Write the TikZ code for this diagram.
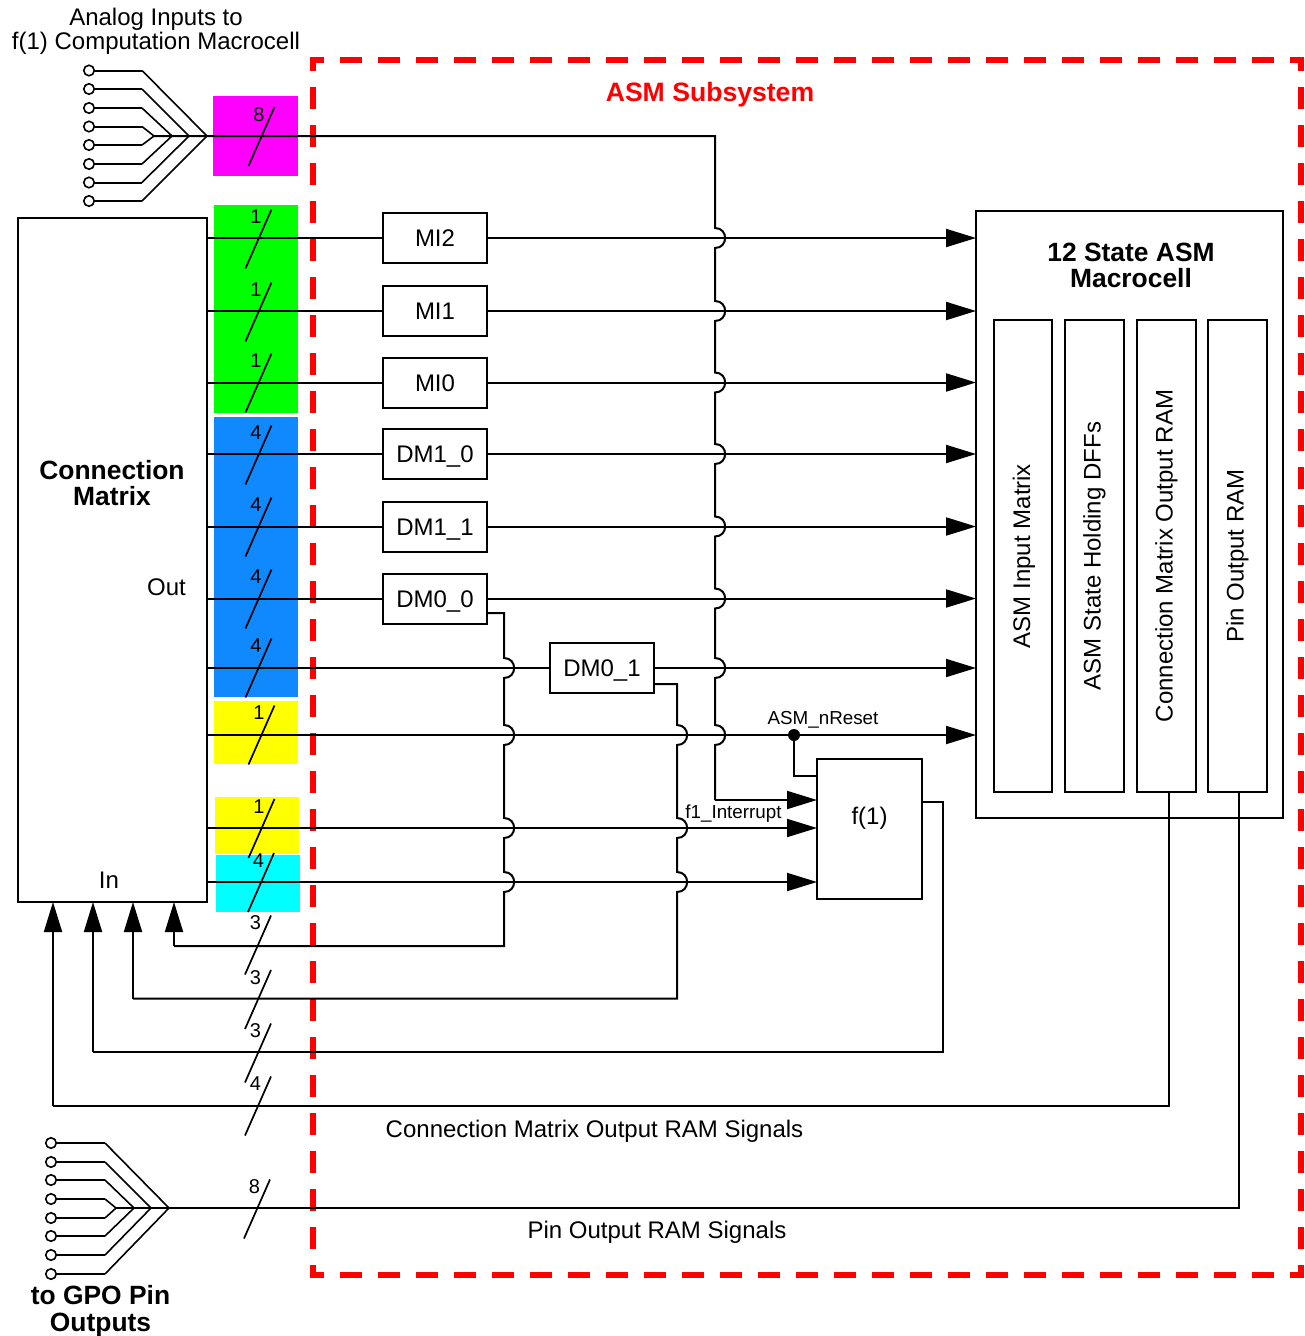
\documentclass[tikz,border=0pt]{standalone}
\usepackage{fontspec}
\setmainfont{Liberation Sans}
\usetikzlibrary{arrows.meta}
\definecolor{cmblue}{HTML}{1089FF}
\definecolor{pmag}{HTML}{FF00FF}
\definecolor{pgreen}{HTML}{00FF00}
\definecolor{pyellow}{HTML}{FFFF00}
\definecolor{pcyan}{HTML}{00FFFF}
\definecolor{pred}{HTML}{FF0000}
\newcommand{\hopat}[2]{-- (#1,#2-10) .. controls (#1+13.5,#2-10) and (#1+13.5,#2+10) .. (#1,#2+10)}
\tikzset{
  wire/.style={line width=2pt},
  thin wire/.style={line width=1.6pt},
  arrowed/.style={wire,-{Triangle[length=30pt,width=18pt]}},
  blockbox/.style={draw=black,line width=2pt,fill=white,inner sep=0pt,outer sep=0pt},
  lbl/.style={font=\fontsize{24}{24}\selectfont,align=center,inner sep=0pt},
  boxlbl/.style={lbl,text height=17pt,text depth=0pt},
  blbl/.style={font=\fontsize{26.4}{26.4}\selectfont\bfseries,align=center,inner sep=0pt},
  small/.style={font=\fontsize{18.8}{20}\selectfont,inner sep=0pt},
  marklbl/.style={font=\fontsize{20}{20}\selectfont,inner sep=0pt},
  pin/.style={circle,draw=black,line width=1.6pt,fill=white,minimum size=10.5pt,inner sep=0pt},
  slashmark/.style={line width=1.7pt}
}
\newcommand{\busmark}[3]{% cx, cy, label
  \draw[slashmark] (#1+13,#2-29.5) -- (#1-13,#2+29.5);
  \node[marklbl] at (#1-2.5,#2-22) {#3};
}
\begin{document}
\begin{tikzpicture}[x=1pt,y=-1pt]
\useasboundingbox (0,0) rectangle (1304,1336);
% coloured bands
\fill[pmag] (213,96) rectangle (298,176);
\fill[pgreen] (214,205) rectangle (298,413);
\fill[cmblue] (214,417) rectangle (298,697);
\fill[pyellow] (214,701) rectangle (298,764);
\fill[pyellow] (215,797) rectangle (299,854);
\fill[pcyan] (216,855) rectangle (300,912);
% subsystem frame: each side restarts its dash pattern at the corner
\draw[pred,line width=6pt,dash pattern=on 22pt off 16pt,dash phase=8pt]
  (310,60) -- (1304,60)
  (310,1275) -- (1304,1275)
  (313,57) -- (313,1278)
  (1301,57) -- (1301,1278);
\node[font=\fontsize{26.6}{28}\selectfont\bfseries,text=pred,inner sep=0pt] (title) at (710,94.5) {ASM Subsystem};
% blocks
\node[blockbox,minimum width=189pt,minimum height=684pt] (CM) at (112.5,560) {};
\node[blbl] (cmt) at (112,483) {Connection\\Matrix};
\node[lbl,anchor=east] (out) at (186,587) {Out};
\node[lbl] (in) at (109,880) {In};
\node[blockbox,boxlbl,minimum width=104pt,minimum height=50pt] (MIb) at (435,238) {MI2};
\node[blockbox,boxlbl,minimum width=104pt,minimum height=50pt] (MIa) at (435,311) {MI1};
\node[blockbox,boxlbl,minimum width=104pt,minimum height=50pt] (MIz) at (435,382.5) {MI0};
\node[blockbox,boxlbl,minimum width=104pt,minimum height=50pt] (DMa) at (435,454) {DM1\_0};
\node[blockbox,boxlbl,minimum width=104pt,minimum height=50pt] (DMb) at (435,526.5) {DM1\_1};
\node[blockbox,boxlbl,minimum width=104pt,minimum height=50pt] (DMc) at (435,598.5) {DM0\_0};
\node[blockbox,boxlbl,minimum width=104pt,minimum height=50pt] (DMd) at (602,668) {DM0\_1};
\node[blockbox,minimum width=307pt,minimum height=607pt] (ASM) at (1129.5,514.5) {};
\node[blbl] (asmt) at (1131,265.5) {12 State ASM\\Macrocell};
\node[blockbox,lbl,minimum width=58pt,minimum height=472pt] (RA) at (1023,556) {\hspace{2pt}\rotatebox{90}{ASM Input Matrix}};
\node[blockbox,lbl,minimum width=59pt,minimum height=472pt] (RB) at (1094.5,556) {\rotatebox{90}{ASM State Holding DFFs}};
\node[blockbox,lbl,minimum width=59pt,minimum height=472pt] (RC) at (1166.5,556) {\rotatebox{90}{Connection Matrix Output RAM}};
\node[blockbox,lbl,minimum width=59pt,minimum height=472pt] (RD) at (1237.5,556) {\rotatebox{90}{Pin Output RAM}};
\node[blockbox,lbl,minimum width=105pt,minimum height=140pt] (F) at (869.5,829) {};
\node[lbl] (ft) at (869.5,818.5) {f(1)};
% straight signals
\foreach \b in {MIb,MIa,MIz,DMa,DMb,DMc} {
  \draw[wire] (CM.east |- \b.west) -- (\b.west);
  \draw[arrowed] (\b.east) -- (ASM.west |- \b.east);
}
\draw[wire] (CM.east |- DMd.west) -- (DMd.west);
\draw[arrowed] (DMd.east) -- (ASM.west |- DMd.east);
\coordinate (rst) at (794,735);
\draw[arrowed] (CM.east |- rst) -- (ASM.west |- rst);
\fill (rst) circle (6pt);
\node[small,anchor=south] (rstl) at (823,728) {ASM\_nReset};
\draw[wire] (rst) -- (794,776) -- (F.west |- 794,776);
\coordinate (fa) at (817,828);
\coordinate (fb) at (817,882);
\draw[arrowed] (CM.east |- fa) -- (fa);
\draw[arrowed] (CM.east |- fb) -- (fb);
\node[small] (fint) at (733.5,814) {f1\_Interrupt};
% analog fan-in
\foreach \y/\jx in {70.5/207,89/189,108/172,126.5/154,145/154,164/172,182.5/189,201/207} {
  \draw[wire] (89,\y) -- (142,\y);
  \draw[thin wire] (142,\y) -- (\jx,136);
  \node[pin] at (89,\y) {};
}
\node[lbl] (anl) at (156,31) {Analog Inputs to\\f(1) Computation Macrocell};
% long bus with hops
\draw[wire] (154,136) -- (715,136) \hopat{715}{238} \hopat{715}{311} \hopat{715}{382.5} \hopat{715}{454} \hopat{715}{526.5} \hopat{715}{598.5} \hopat{715}{668} \hopat{715}{735} -- (715,800);
\draw[arrowed] (715,800) -- (F.west |- 715,800);
% feedback from DM0_0
\draw[wire] (DMc.east |- 504,613) -- (504,613) \hopat{504}{668} \hopat{504}{735} \hopat{504}{828} \hopat{504}{882} -- (504,946) -- (174,946);
\draw[arrowed] (174,946) -- (174,946 |- CM.south);
% feedback from DM0_1
\draw[wire] (DMd.east |- 677,684) -- (677,684) \hopat{677}{735} \hopat{677}{828} \hopat{677}{882} -- (677,998.5) -- (133,998.5);
\draw[arrowed] (133,998.5) -- (133,998.5 |- CM.south);
% f(1) output
\draw[wire] (F.east |- 943,802) -- (943,802) -- (943,1052) -- (93,1052);
\draw[arrowed] (93,1052) -- (93,1052 |- CM.south);
% RAM signals
\draw[wire] (1169,792) -- (1169,1106) -- (53,1106);
\draw[arrowed] (53,1106) -- (53,1106 |- CM.south);
\node[lbl] (rl) at (594.5,1131) {Connection Matrix Output RAM Signals};
% pin output fan
\foreach \y/\jx in {1143/169,1162/151,1180/134,1199/116,1218/116,1236/134,1255/151,1274/169} {
  \draw[wire] (51,\y) -- (105,\y);
  \draw[thin wire] (105,\y) -- (\jx,1208);
  \node[pin] at (51,\y) {};
}
\draw[wire] (116,1208) -- (1239,1208) -- (1239,792);
\node[lbl] (pl) at (657,1232) {Pin Output RAM Signals};
\node[blbl] (gpo) at (100.5,1311) {to GPO Pin\\Outputs};
% bus marks
\busmark{261.5}{136.5}{8}
\busmark{258.5}{239}{1}
\busmark{258.5}{312}{1}
\busmark{258.5}{383}{1}
\busmark{258.5}{455}{4}
\busmark{258.5}{527}{4}
\busmark{258.5}{599}{4}
\busmark{258.5}{668}{4}
\busmark{261.5}{735}{1}
\busmark{261.5}{828.5}{1}
\busmark{261}{882.5}{4}
\busmark{258}{945}{3}
\busmark{258}{999.5}{3}
\busmark{258}{1053}{3}
\busmark{258}{1106}{4}
\busmark{257}{1209}{8}
\end{tikzpicture}
\end{document}
